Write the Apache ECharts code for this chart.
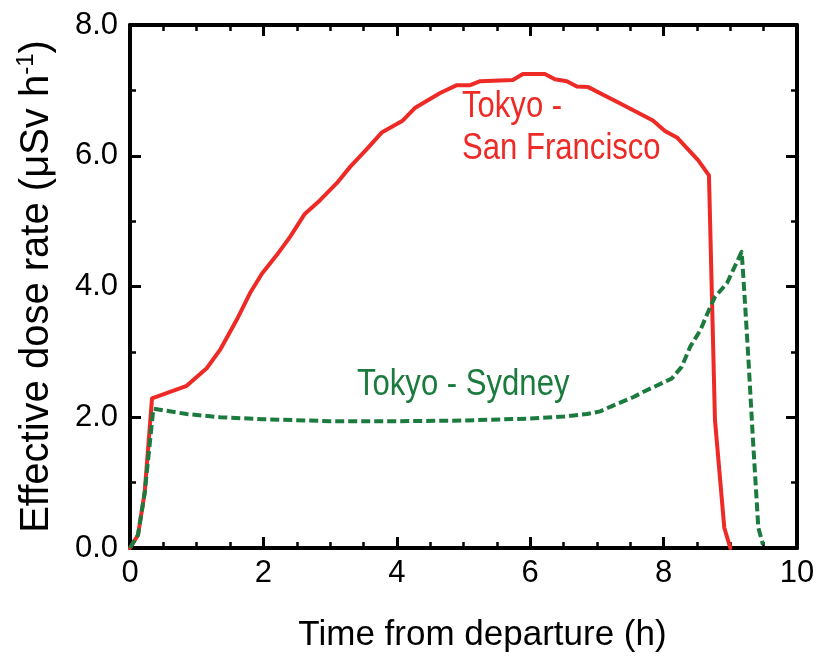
<!DOCTYPE html>
<html>
<head>
<meta charset="utf-8">
<script src="https://cdn.jsdelivr.net/npm/echarts@6/dist/echarts.min.js"></script>
<style>
html,body{margin:0;padding:0;background:#fff;}
#chart{width:819px;height:665px;}
</style>
</head>
<body>
<div id="chart"></div>
<script>
// Tokyo - San Francisco
const sfTime = [0, 0.02, 0.12, 0.22, 0.33, 0.85, 1.15, 1.35, 1.60, 1.80, 1.98, 2.20, 2.40, 2.62, 2.85, 3.10, 3.30, 3.55, 3.78, 4.08, 4.27, 4.65, 4.90, 5.10, 5.25, 5.74, 5.89, 6.22, 6.37, 6.55, 6.70, 6.87, 7.35, 7.84, 8.02, 8.20, 8.52, 8.68, 8.77, 8.91, 9.00];
const sfRate = [0, 0.03, 0.20, 0.85, 2.29, 2.48, 2.75, 3.03, 3.49, 3.90, 4.20, 4.48, 4.76, 5.11, 5.32, 5.58, 5.83, 6.10, 6.36, 6.53, 6.73, 6.96, 7.08, 7.08, 7.14, 7.16, 7.25, 7.25, 7.17, 7.14, 7.06, 7.05, 6.80, 6.54, 6.38, 6.28, 5.93, 5.70, 1.96, 0.31, 0.00];
// Tokyo - Sydney
const sydTime = [0, 0.12, 0.22, 0.35, 0.85, 1.35, 2.0, 3.0, 4.0, 5.0, 6.0, 6.5, 6.85, 7.05, 7.20, 7.55, 7.70, 8.12, 8.27, 8.40, 8.55, 8.70, 8.77, 8.95, 9.17, 9.20, 9.27, 9.34, 9.42, 9.49];
const sydRate = [0, 0.20, 0.84, 2.13, 2.05, 2.00, 1.97, 1.94, 1.94, 1.95, 1.98, 2.01, 2.05, 2.09, 2.16, 2.31, 2.39, 2.59, 2.77, 3.08, 3.33, 3.69, 3.84, 4.05, 4.53, 4.08, 2.92, 1.65, 0.31, 0.05];

const seriesNames = ['Tokyo - San Francisco', 'Tokyo - Sydney'];
const xTitle = 'Time from departure (h)';
const yTitleMain = 'Effective dose rate (μSv h';
const yTitleSup = '-1';

const RED = '#ee2a26';
const GREEN = '#1b7a3e';
const FONT = "'Liberation Sans', Arial, sans-serif";

const sfData = sfTime.map((t, i) => [t, sfRate[i]]);
const sydData = sydTime.map((t, i) => [t, sydRate[i]]);

const chart = echarts.init(document.getElementById('chart'), null, {renderer: 'canvas'});

const axisLine = {show: true, onZero: false, lineStyle: {color: '#000', width: 4}};
const tickBase = {show: true, inside: true, length: 11, lineStyle: {color: '#000', width: 3}};
const minorBase = {show: true, length: 6, lineStyle: {color: '#000', width: 2.5}};

chart.setOption({
  animation: false,
  backgroundColor: '#fff',
  grid: {left: 130, right: 22, top: 25, bottom: 117, containLabel: false},
  xAxis: [
    {
      type: 'value', position: 'bottom', min: 0, max: 10, interval: 2,
      axisLine: axisLine,
      axisTick: tickBase,
      minorTick: Object.assign({splitNumber: 4}, minorBase),
      splitLine: {show: false},
      axisLabel: {show: true, margin: 10, fontSize: 31, fontFamily: FONT, color: '#000',
        formatter: v => String(v)},
      name: xTitle, nameLocation: 'middle', nameGap: 70,
      nameTextStyle: {fontSize: 35, fontFamily: FONT, color: '#000', padding: [0, 0, 0, 38]}
    },
    {
      type: 'value', position: 'top', min: 0, max: 10, interval: 2,
      axisLine: axisLine,
      axisTick: tickBase,
      minorTick: Object.assign({splitNumber: 4}, minorBase),
      splitLine: {show: false},
      axisLabel: {show: false}
    }
  ],
  yAxis: [
    {
      type: 'value', position: 'left', min: 0, max: 8, interval: 2,
      axisLine: axisLine,
      axisTick: tickBase,
      minorTick: Object.assign({splitNumber: 2}, minorBase),
      splitLine: {show: false},
      axisLabel: {show: true, margin: 12, fontSize: 31, fontFamily: FONT, color: '#000',
        formatter: v => v.toFixed(1)},
      name: '{a|' + yTitleMain + '}{s|' + yTitleSup + '}{a|)}',
      nameLocation: 'middle', nameGap: 70,
      nameTextStyle: {
        fontFamily: FONT, color: '#000',
        rich: {
          a: {fontSize: 40, fontFamily: FONT, color: '#000', lineHeight: 46},
          s: {fontSize: 24, fontFamily: FONT, color: '#000', verticalAlign: 'top', lineHeight: 24}
        }
      }
    },
    {
      type: 'value', position: 'right', min: 0, max: 8, interval: 2,
      axisLine: axisLine,
      axisTick: tickBase,
      minorTick: Object.assign({splitNumber: 2}, minorBase),
      splitLine: {show: false},
      axisLabel: {show: false}
    }
  ],
  series: [
    {
      name: seriesNames[0], type: 'line', data: sfData, xAxisIndex: 0, yAxisIndex: 0,
      showSymbol: false, symbol: 'none', smooth: false,
      lineStyle: {color: RED, width: 4, join: 'round', cap: 'round'},
      z: 3
    },
    {
      name: seriesNames[1], type: 'line', data: sydData, xAxisIndex: 0, yAxisIndex: 0,
      showSymbol: false, symbol: 'none', smooth: false,
      lineStyle: {color: GREEN, width: 4, type: [9, 4], join: 'round'},
      z: 4
    }
  ],
  graphic: [
    {type: 'text', x: 462, y: 88, scaleX: 0.84, z: 10,
      style: {text: 'Tokyo -', font: '37px ' + FONT, fill: RED, verticalAlign: 'top'}},
    {type: 'text', x: 462, y: 130, scaleX: 0.84, z: 10,
      style: {text: 'San Francisco', font: '37px ' + FONT, fill: RED, verticalAlign: 'top'}},
    {type: 'text', x: 357, y: 366, scaleX: 0.84, z: 10,
      style: {text: 'Tokyo - Sydney', font: '37px ' + FONT, fill: GREEN, verticalAlign: 'top'}}
  ]
});
</script>
</body>
</html>
